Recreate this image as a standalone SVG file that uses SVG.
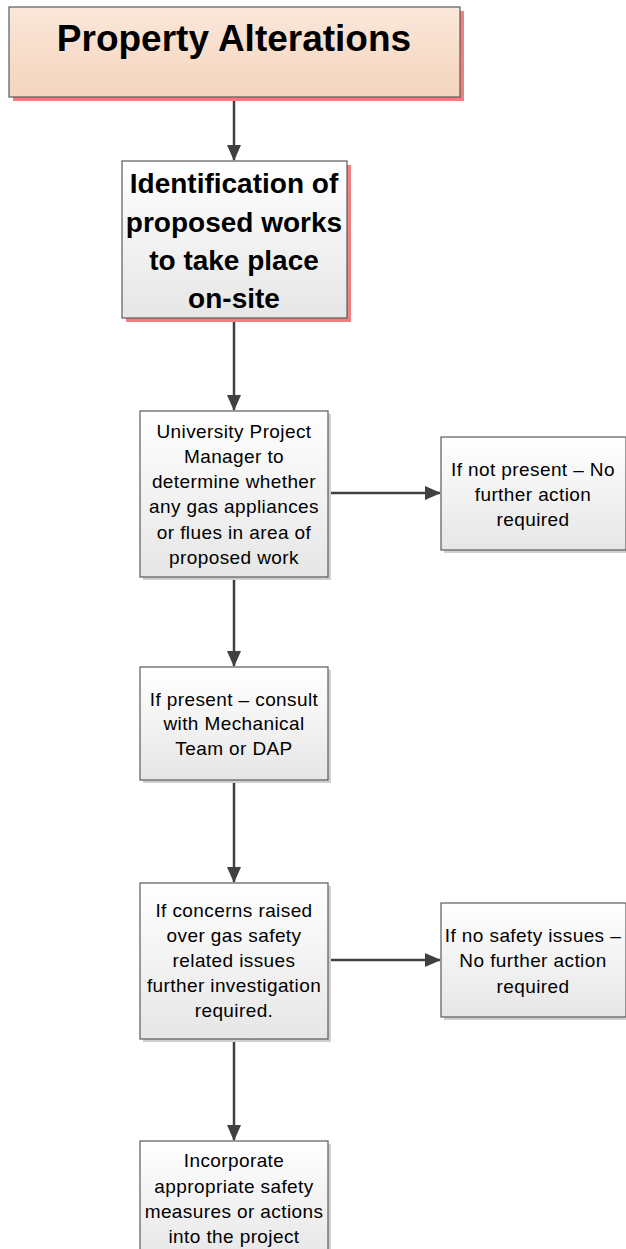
<svg xmlns="http://www.w3.org/2000/svg" width="626" height="1249" viewBox="0 0 626 1249">
<style>
.box{stroke:#5a5a5a;stroke-width:1.2}
.sh{fill:#d0d0d0}
.psh{fill:#f08080}
.t{font-family:"Liberation Sans",Arial,sans-serif;font-size:19px;letter-spacing:0.4px;fill:#000;text-anchor:middle}
.b{font-weight:bold;letter-spacing:0}
.c{stroke:#404040;stroke-width:2.5;fill:none}
</style>
<defs>
<linearGradient id="gw" x1="0" y1="0" x2="0" y2="1"><stop offset="0" stop-color="#ffffff"/><stop offset="1" stop-color="#e6e6e6"/></linearGradient>
<linearGradient id="gp" x1="0" y1="0" x2="0" y2="1"><stop offset="0" stop-color="#fbe7da"/><stop offset="1" stop-color="#f4d4bc"/></linearGradient>
<marker id="a" markerWidth="16" markerHeight="14" refX="15" refY="7" orient="auto" markerUnits="userSpaceOnUse"><path d="M0,0 L16,7 L0,14 z" fill="#404040"/></marker>
</defs>
<g id="connectors">
<path class="c" d="M234,97 V160" marker-end="url(#a)"/>
<path class="c" d="M234,318 V410" marker-end="url(#a)"/>
<path class="c" d="M234,577 V666" marker-end="url(#a)"/>
<path class="c" d="M234,780 V882" marker-end="url(#a)"/>
<path class="c" d="M234,1039 V1140" marker-end="url(#a)"/>
<path class="c" d="M328,493 H440" marker-end="url(#a)"/>
<path class="c" d="M328,960 H440" marker-end="url(#a)"/>
</g>
<g id="n1">
<rect class="psh" x="13" y="11" width="451" height="90"/>
<rect class="box" x="9" y="7" width="451" height="90" fill="url(#gp)"/>
<text class="t b" x="234" y="51" style="font-size:37px">Property Alterations</text>
</g>
<g id="n2">
<rect class="psh" x="126" y="165" width="225" height="157"/>
<rect class="box" x="122" y="161" width="225" height="157" fill="url(#gw)"/>
<text class="t b" style="font-size:28px"><tspan x="234" y="193">Identification of</tspan><tspan x="234" y="232">proposed works</tspan><tspan x="234" y="270">to take place</tspan><tspan x="234" y="308">on-site</tspan></text>
</g>
<g id="n3">
<rect class="sh" x="143" y="414" width="188" height="166"/>
<rect class="box" x="140" y="411" width="188" height="166" fill="url(#gw)"/>
<text class="t"><tspan x="234" y="438">University Project</tspan><tspan x="234" y="463">Manager to</tspan><tspan x="234" y="488">determine whether</tspan><tspan x="234" y="513">any gas appliances</tspan><tspan x="234" y="539">or flues in area of</tspan><tspan x="234" y="564">proposed work</tspan></text>
</g>
<g id="n4">
<rect class="sh" x="444" y="440" width="185" height="113"/>
<rect class="box" x="441" y="437" width="185" height="113" fill="url(#gw)"/>
<text class="t"><tspan x="533" y="476">If not present – No</tspan><tspan x="533" y="501">further action</tspan><tspan x="533" y="526">required</tspan></text>
</g>
<g id="n5">
<rect class="sh" x="143" y="670" width="188" height="113"/>
<rect class="box" x="140" y="667" width="188" height="113" fill="url(#gw)"/>
<text class="t"><tspan x="234" y="706">If present – consult</tspan><tspan x="234" y="730">with Mechanical</tspan><tspan x="234" y="755">Team or DAP</tspan></text>
</g>
<g id="n6">
<rect class="sh" x="143" y="886" width="188" height="156"/>
<rect class="box" x="140" y="883" width="188" height="156" fill="url(#gw)"/>
<text class="t"><tspan x="234" y="917">If concerns raised</tspan><tspan x="234" y="942">over gas safety</tspan><tspan x="234" y="967">related issues</tspan><tspan x="234" y="992">further investigation</tspan><tspan x="234" y="1017">required.</tspan></text>
</g>
<g id="n7">
<rect class="sh" x="444" y="906" width="185" height="114"/>
<rect class="box" x="441" y="903" width="185" height="114" fill="url(#gw)"/>
<text class="t"><tspan x="533" y="942">If no safety issues –</tspan><tspan x="533" y="967">No further action</tspan><tspan x="533" y="993">required</tspan></text>
</g>
<g id="n8">
<rect class="sh" x="143" y="1144" width="188" height="120"/>
<rect class="box" x="140" y="1141" width="188" height="120" fill="url(#gw)"/>
<text class="t"><tspan x="234" y="1167">Incorporate</tspan><tspan x="234" y="1193">appropriate safety</tspan><tspan x="234" y="1218">measures or actions</tspan><tspan x="234" y="1243">into the project</tspan></text>
</g>
</svg>
